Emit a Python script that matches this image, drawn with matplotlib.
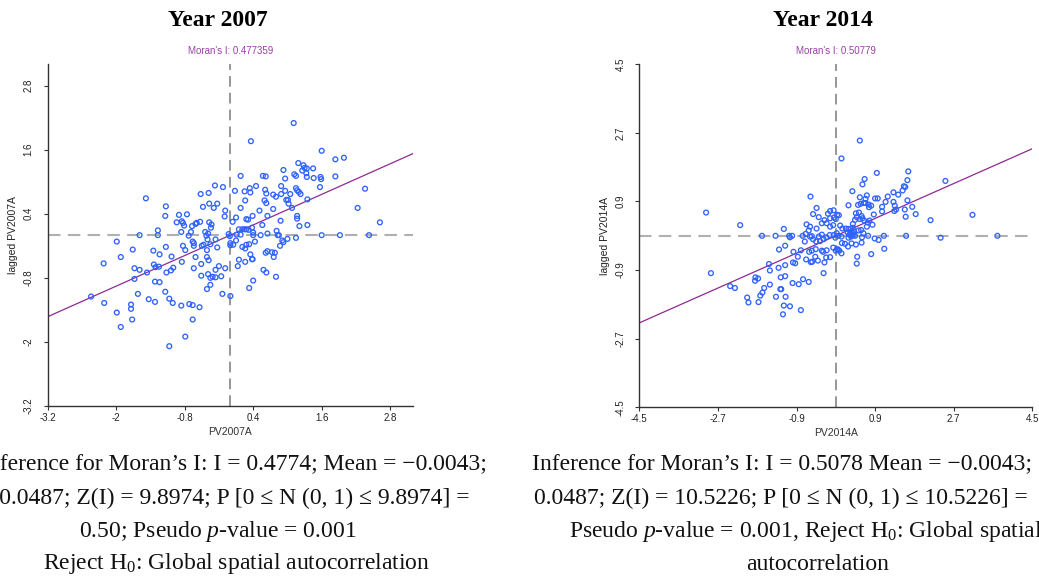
import matplotlib
matplotlib.use("Agg")
import matplotlib.pyplot as plt
import numpy as np

plt.rcParams["mathtext.fontset"] = "custom"
plt.rcParams["mathtext.rm"] = "Liberation Serif"
plt.rcParams["mathtext.it"] = "Liberation Serif:italic"

# --- 2007: standardized PV2007A and its spatial lag ---
pv2007 = [1.11, 0.36, 1.60, 1.84, 1.99, 1.19, 1.28, 1.30, 1.34, 1.45, 0.93, 1.26, 1.33, 1.12,
          1.15, 1.34, 1.46, 1.58, 1.59, 1.84, 0.96, 0.18, 0.57, 0.62, -0.27, -0.13, -0.52, -0.38,
          0.08, 0.25, 0.34, 0.35, 0.45, 0.61, 0.63, 0.75, 0.80, 0.89, 0.96, 0.89, 1.05, 1.15,
          1.17, 1.23, 1.20, 1.57, 2.36, -1.48, -1.13, -0.48, -0.37, -0.23, -0.29, -0.09, 0.26,
          0.60, 0.63, 0.98, 1.01, 1.02, 1.08, 1.35, 0.18, 0.75, 2.23, -1.14, -0.90, -0.76, -0.94,
          -0.85, -0.83, -0.81, -0.67, -0.59, -0.53, -0.61, -0.37, -0.33, -0.34, -0.10, 0.04, 0.10,
          0.28, 0.31, 0.39, 0.51, 0.38, 0.56, 0.65, 0.88, 1.17, 1.17, 1.21, 1.35, 2.62, -1.27,
          -1.27, -1.59, -0.86, -0.69, -0.73, -0.44, -0.39, -0.42, -0.40, -0.03, -0.01, 0.15, 0.21,
          0.25, 0.28, 0.32, 0.40, 0.40, 0.18, 0.11, 0.53, 0.65, 0.81, 0.83, 0.85, 0.91, 0.93, 1.00,
          1.15, 1.60, 1.92, 2.43, -1.99, -1.71, -1.92, -2.22, -1.35, -1.24, -1.13, -1.03, -0.85,
          -0.83, -0.79, -0.66, -0.64, -0.64, -0.61, -0.50, -0.47, -0.41, -0.35, -0.26, -0.23,
          -0.41, -0.38, -0.51, -0.64, 0.00, 0.00, 0.05, 0.10, 0.21, 0.26, 0.28, 0.33, 0.43, 0.15,
          0.13, 0.26, 0.35, 0.38, 0.39, 0.62, 0.65, 0.73, 0.76, 0.78, 0.87, 0.58, 0.63, 0.80,
          -1.68, -1.59, -1.68, -1.46, -1.34, -1.31, -1.25, -1.12, -1.04, -1.00, -1.32, -1.24,
          -0.51, -0.39, -0.35, -0.31, -0.26, -0.20, -0.26, -0.16, -0.09, -0.35, -0.41, 0.40, 0.33,
          -2.44, -2.21, -1.62, -1.43, -1.32, -1.14, -1.07, -1.01, -0.86, -0.72, -0.66, -0.54,
          -0.14, 0.00, -1.74, -1.74, -1.99, -1.72, -1.92, -0.66, -0.79, -1.07]
lag2007 = [2.10, 1.76, 1.58, 1.42, 1.45, 1.35, 1.31, 1.26, 1.25, 1.25, 1.22, 1.21, 1.16, 1.14,
           1.11, 1.09, 1.07, 1.09, 1.05, 1.10, 1.06, 1.11, 1.11, 1.10, 0.93, 0.90, 0.77, 0.79,
           0.83, 0.82, 0.88, 0.80, 0.92, 0.85, 0.78, 0.76, 0.72, 0.92, 0.83, 0.77, 0.77, 0.88,
           0.84, 0.77, 0.81, 0.90, 0.87, 0.69, 0.54, 0.53, 0.59, 0.59, 0.51, 0.46, 0.65, 0.65,
           0.60, 0.66, 0.66, 0.59, 0.51, 0.67, 0.51, 0.49, 0.51, 0.36, 0.38, 0.39, 0.24, 0.26,
           0.23, 0.18, 0.17, 0.23, 0.25, 0.21, 0.24, 0.20, 0.14, 0.35, 0.25, 0.33, 0.30, 0.29,
           0.36, 0.46, 0.14, 0.19, 0.36, 0.27, 0.36, 0.31, 0.17, 0.19, 0.24, 0.09, 0.00, 0.00,
           0.06, 0.06, -0.01, 0.06, 0.03, -0.01, -0.08, 0.02, -0.02, 0.11, 0.11, 0.11, 0.11, 0.10,
           0.05, 0.00, 0.01, 0.01, 0.00, 0.03, 0.08, 0.00, 0.00, -0.10, -0.13, -0.07, -0.05, 0.00,
           0.00, 0.00, -0.12, -0.27, -0.41, -0.53, -0.29, -0.36, -0.22, -0.40, -0.50, -0.20,
           -0.28, -0.12, -0.15, -0.20, -0.41, -0.20, -0.18, -0.28, -0.17, -0.08, -0.23, -0.41,
           -0.47, -0.54, -0.62, -0.15, -0.19, -0.18, -0.10, -0.22, -0.25, -0.18, -0.17, -0.12,
           -0.46, -0.58, -0.50, -0.36, -0.45, -0.45, -0.33, -0.30, -0.32, -0.41, -0.33, -0.20,
           -0.65, -0.70, -0.78, -0.62, -0.65, -0.82, -0.70, -0.55, -0.60, -0.59, -0.70, -0.66,
           -0.61, -0.87, -0.88, -0.76, -0.73, -0.80, -0.78, -0.79, -0.58, -0.65, -0.77, -0.62,
           -0.93, -1.01, -0.85, -0.99, -1.15, -1.27, -1.10, -1.20, -1.25, -1.06, -1.19, -1.27,
           -1.32, -1.29, -1.31, -1.35, -1.10, -1.14, -1.30, -1.38, -1.45, -1.58, -1.72, -1.58,
           -1.90, -2.08]

# --- 2014: standardized PV2014A and its spatial lag ---
pv2014 = [0.55, 0.13, 0.94, 1.66, 1.64, 0.66, 0.61, 2.51, 1.56, 1.59, 1.53, 0.38, 1.32, 1.43,
          1.19, 0.90, 0.96, 0.55, 0.71, 0.68, 0.64, 0.68, 0.75, 0.81, 0.76, 0.57, 0.51, 0.29,
          1.14, 1.32, 1.35, 1.64, 1.75, 1.06, 1.06, 1.34, 1.38, 1.58, 1.83, 1.60, 2.17, 3.13,
          -0.58, -0.44, -0.52, -0.39, -0.18, -0.13, -0.05, 0.03, 0.07, 0.00, -0.04, -0.13, -0.26,
          -0.32, -0.21, -0.13, -0.06, 0.10, 0.15, 0.23, 0.39, 0.34, 0.39, 0.46, 0.53, 0.59, 0.61,
          0.55, 0.44, 0.48, 0.65, 0.73, 0.77, 0.87, 0.84, 0.71, 0.58, 0.52, 0.63, 0.74, 0.60,
          0.42, 0.27, 0.31, 0.37, 0.44, 0.35, 0.29, 0.13, 0.06, 0.02, -0.05, -0.14, -0.22, -0.32,
          -0.39, -0.44, -0.59, -0.67, -0.62, -0.69, -0.76, -0.59, -0.55, -0.52, -0.45, -0.36,
          -0.28, -0.71, -0.80, -0.61, -0.55, -0.46, -0.32, -0.29, -0.21, -0.06, 0.00, 0.03, 0.08,
          0.13, 0.14, 0.21, 0.28, 0.36, 0.46, 0.59, 0.89, 0.98, 1.10, 1.11, 1.61, 2.40, 3.70,
          0.49, 0.48, 0.81, -0.22, -0.13, -0.47, -0.68, -0.57, -0.54, -0.41, -0.26, -0.28, -0.97,
          -0.87, -0.93, -0.98, -1.16, -1.30, -1.16, -1.19, -1.38, -1.69, -1.07, -1.05, -1.00,
          -2.19, -2.97, -2.86, -1.53, -1.51, -1.31, -1.26, -1.16, -1.84, -1.78, -1.85, -2.42,
          -2.31, -1.64, -1.51, -1.27, -1.25, -1.68, -1.73, -2.03, -2.00, -1.77, -1.37, -1.15,
          -0.99, -0.85, -0.75, -0.62, -1.19, -1.05, -0.80, -1.21, 0.29, 0.40, 0.33, 0.36, 0.41,
          -0.01, 0.05]
lag2014 = [2.50, 2.03, 1.65, 1.69, 1.46, 1.49, 1.35, 1.44, 1.30, 1.28, 1.19, 1.17, 1.14, 1.08,
           1.03, 0.98, 0.98, 1.01, 1.06, 0.97, 0.86, 0.86, 0.82, 0.79, 0.75, 0.84, 0.81, 0.80,
           0.89, 0.89, 0.79, 0.93, 0.76, 0.76, 0.64, 0.65, 0.69, 0.69, 0.57, 0.50, 0.41, 0.55,
           1.03, 0.73, 0.57, 0.49, 0.58, 0.65, 0.67, 0.55, 0.54, 0.44, 0.48, 0.46, 0.41, 0.33,
           0.33, 0.24, 0.28, 0.27, 0.19, 0.19, 0.31, 0.18, 0.21, 0.59, 0.61, 0.52, 0.46, 0.44,
           0.42, 0.49, 0.40, 0.35, 0.40, 0.56, 0.29, 0.24, 0.15, 0.14, 0.07, 0.00, -0.04, 0.11,
           0.09, 0.03, 0.01, 0.00, -0.02, -0.05, -0.02, 0.00, 0.07, 0.02, 0.02, -0.04, 0.03, -0.02,
           0.19, 0.24, 0.30, 0.14, 0.05, 0.00, -0.02, -0.01, -0.09, -0.15, -0.14, -0.09, -0.15,
           -0.38, -0.42, -0.39, -0.35, -0.39, -0.42, -0.38, -0.31, -0.39, -0.35, -0.39, -0.46,
           -0.19, -0.21, -0.28, -0.20, -0.23, -0.18, -0.07, -0.11, 0.00, -0.34, 0.00, -0.05, 0.00,
           -0.55, -0.73, -0.48, -0.57, -0.56, -0.55, -0.62, -0.69, -0.68, -0.65, -0.70, -0.98,
           -0.42, -0.55, -0.72, -0.70, -0.77, -0.36, -0.26, 0.18, 0.00, 0.00, 0.00, -0.04, 0.00,
           0.28, 0.61, -0.98, -0.74, -0.91, -0.84, -1.09, -1.06, -1.09, -1.12, -1.18, -1.32,
           -1.37, -1.37, -1.28, -1.40, -1.40, -1.49, -1.57, -1.62, -1.75, -1.74, -1.60, -1.60,
           -1.24, -1.27, -1.14, -1.21, -1.83, -1.85, -1.95, -2.06, 0.18, 0.07, 0.04, 0.06, 0.02,
           -0.05, -0.36]

moran_i = [0.477359, 0.50779]
years = ["2007", "2014"]
ticks = [[-3.2, -2, -0.8, 0.4, 1.6, 2.8], [-4.5, -2.7, -0.9, 0.9, 2.7, 4.5]]
limits = [(-3.2, 3.2), (-4.5, 4.5)]

fig = plt.figure(figsize=(10.39, 5.78), dpi=100)
W, H = 1039, 578

# axes rectangles in pixels: left, top, right, bottom
boxes = [(47.7, 64.3, 413.0, 406.0), (639.3, 64.3, 1032.3, 407.3)]
panels = [(pv2007, lag2007), (pv2014, lag2014)]

for i, (xv, yv) in enumerate(panels):
    l, t, r, b = boxes[i]
    ax = fig.add_axes([l / W, 1 - b / H, (r - l) / W, (b - t) / H])
    ax.scatter(xv, yv, s=12, facecolors="none", edgecolors="#2f62ff", linewidths=0.95, zorder=3)
    ax.axvline(0, color="#7a7a7a", lw=1.1, dashes=(7, 4), zorder=1)
    ax.axhline(0, color="#b0b0b0", lw=1.5, dashes=(6, 3.5), zorder=1)
    ax.axline((0, 0), slope=moran_i[i], color="#8e2a94", lw=0.9, zorder=2)
    ax.set_xlim(limits[i])
    ax.set_ylim(limits[i])
    ax.set_xticks(ticks[i])
    ax.set_yticks(ticks[i])
    ax.set_xticklabels([f"{v:g}" for v in ticks[i]], family="Liberation Sans", fontsize=7)
    ax.set_yticklabels([f"{v:g}" for v in ticks[i]], family="Liberation Sans", fontsize=7,
                       rotation=90, va="center")
    for side in ["top", "right"]:
        ax.spines[side].set_visible(False)
    for side in ["left", "bottom"]:
        ax.spines[side].set_color("#333333")
        ax.spines[side].set_linewidth(1.0)
    ax.tick_params(axis="x", length=3, pad=2, color="#333333", labelcolor="#222222")
    ax.tick_params(axis="y", length=3, pad=7, color="#333333", labelcolor="#222222")
    ax.set_xlabel(f"PV{years[i]}A", family="Liberation Sans", fontsize=7.5, color="#333333",
                  labelpad=3)
    ax.set_ylabel(f"lagged PV{years[i]}A", family="Liberation Sans", fontsize=7.5,
                  color="#222222", labelpad=4)
    cx = (l + r) / 2
    fig.text(cx / W, 1 - 50.7 / H, f"Moran's I: {moran_i[i]:g}", ha="center", va="center",
             family="Liberation Sans", fontsize=7, color="#9b3fa8")

serif = ["Liberation Serif", "DejaVu Serif"]
fig.text(218 / W, 1 - 21 / H, "Year 2007", ha="center", va="center", family=serif,
         fontweight="bold", fontsize=17)
fig.text(823 / W, 1 - 21 / H, "Year 2014", ha="center", va="center", family=serif,
         fontweight="bold", fontsize=17)

# captions under each panel (the page crop cuts them at the figure edges)
cap = dict(va="center", family=serif, fontsize=17, color="#111111")
ys = [465, 498, 531, 564]
fig.text(487 / W, 1 - ys[0] / H, "Inference for Moran\u2019s I: I = 0.4774; Mean = \u22120.0043;",
         ha="right", **cap)
fig.text(470 / W, 1 - ys[1] / H, "SD = 0.0487; Z(I) = 9.8974; P [0 \u2264 N (0, 1) \u2264 9.8974] =",
         ha="right", **cap)
fig.text(218 / W, 1 - ys[2] / H, "0.50; Pseudo $\\mathit{p}$-value = 0.001", ha="center", **cap)
fig.text(237 / W, 1 - ys[3] / H, "Reject H$_0$: Global spatial autocorrelation", ha="center", **cap)

fig.text(532 / W, 1 - ys[0] / H, "Inference for Moran\u2019s I: I = 0.5078 Mean = \u22120.0043;",
         ha="left", **cap)
fig.text(534 / W, 1 - ys[1] / H, "0.0487; Z(I) = 10.5226; P [0 \u2264 N (0, 1) \u2264 10.5226] =",
         ha="left", **cap)
fig.text(569 / W, 1 - ys[2] / H, "Pseudo $\\mathit{p}$-value = 0.001, Reject H$_0$: Global spatial",
         ha="left", **cap)
fig.text(818 / W, 1 - ys[3] / H, "autocorrelation", ha="center", **cap)

fig.savefig("out.png", dpi=100)
